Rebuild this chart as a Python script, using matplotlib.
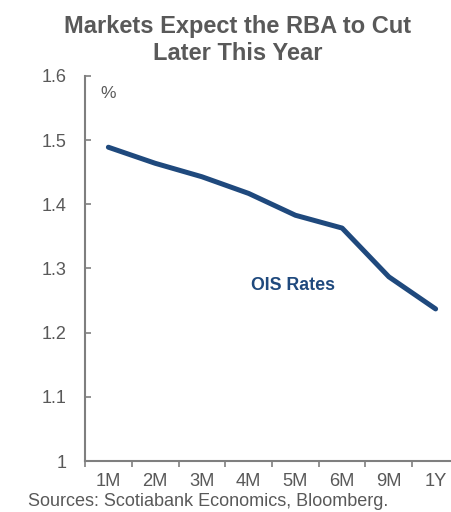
import matplotlib
matplotlib.use("Agg")
import matplotlib.pyplot as plt
from matplotlib.ticker import FixedLocator

categories = ["1M", "2M", "3M", "4M", "5M", "6M", "9M", "1Y"]
ois_rates = [1.489, 1.464, 1.443, 1.417, 1.383, 1.363, 1.287, 1.237]
y_ticks = [1.0, 1.1, 1.2, 1.3, 1.4, 1.5, 1.6]
y_tick_labels = ["1", "1.1", "1.2", "1.3", "1.4", "1.5", "1.6"]

plt.rcParams['font.family'] = ['Liberation Sans', 'DejaVu Sans']
gray = "#595959"
spine_gray = "#7f7f7f"
navy = "#1f497d"

fig = plt.figure(figsize=(4.51, 5.12), dpi=100)
ax = fig.add_axes([85/451, 51/512, 374/451, 385/512])

x = list(range(len(categories)))
ax.plot(x, ois_rates, color=navy, lw=3.6, solid_capstyle='round', solid_joinstyle='round')

ax.set_xlim(-0.5, len(categories) - 0.5)
ax.set_ylim(1.0, 1.6)
ax.set_yticks(y_ticks)
ax.set_yticklabels(y_tick_labels)
ax.set_xticks(x)
ax.set_xticklabels(categories)
ax.xaxis.set_minor_locator(FixedLocator([i - 0.5 for i in range(len(categories) + 1)]))

ax.tick_params(axis='x', which='major', length=0, pad=9, labelsize=13.2, labelcolor=gray)
ax.tick_params(axis='x', which='minor', length=4, width=1.2, direction='out', color=spine_gray)
ax.tick_params(axis='y', which='major', length=4.5, width=1.2, direction='in', pad=13,
               labelsize=13, labelcolor=gray, color=spine_gray)

for s in ['top', 'right']:
    ax.spines[s].set_visible(False)
for s in ['left', 'bottom']:
    ax.spines[s].set_color(spine_gray)
    ax.spines[s].set_linewidth(1.5)

ax.text(0, 1.573, "%", color=gray, fontsize=12.5, ha='center', va='center')
ax.text(3.95, 1.274, "OIS Rates", color=navy, fontsize=12.8, fontweight='bold',
        ha='center', va='center')

fig.text(238/451, 1 - 40/512, "Markets Expect the RBA to Cut\nLater This Year",
         ha='center', va='center', fontsize=17, fontweight='bold', color=gray,
         linespacing=1.2)
fig.text(28/451, 2/512, "Sources: Scotiabank Economics, Bloomberg.",
         ha='left', va='bottom', fontsize=13, color=gray)

fig.savefig("out.png", dpi=100)
